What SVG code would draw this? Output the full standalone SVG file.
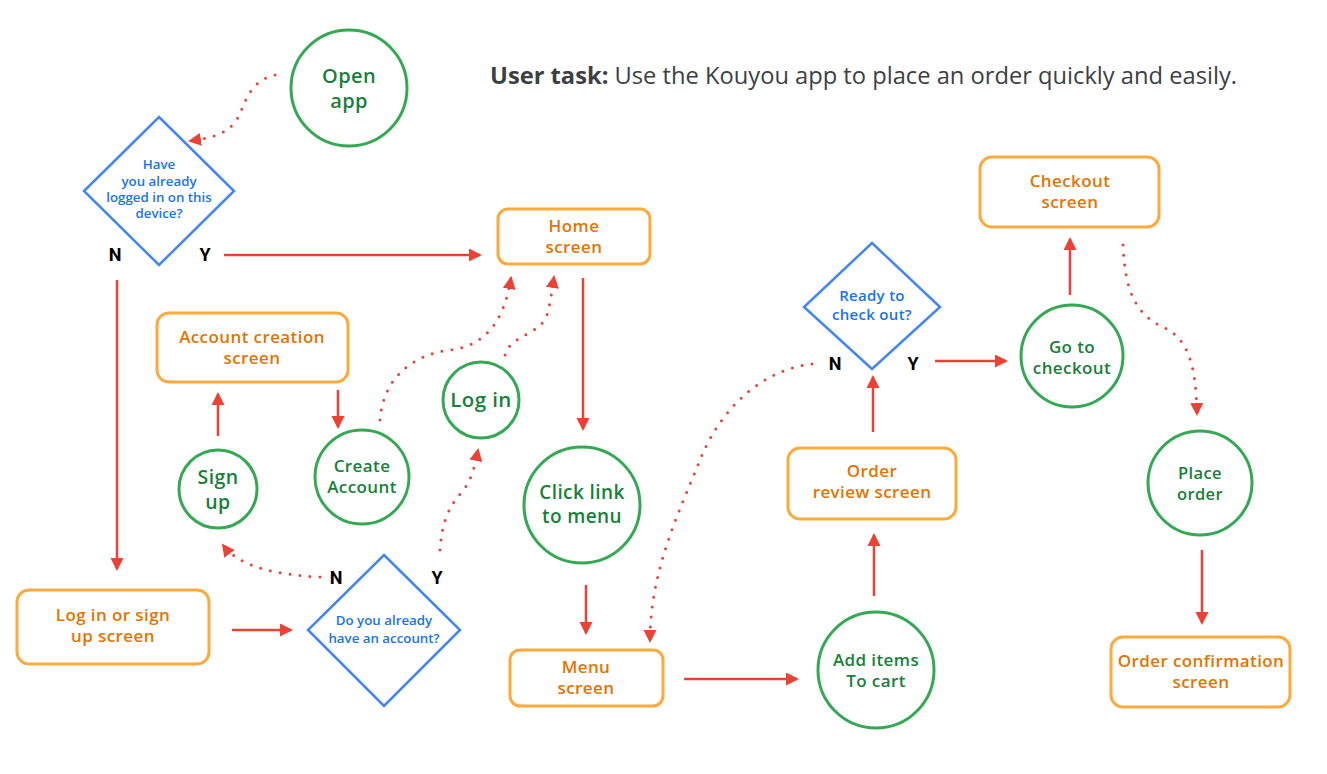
<svg xmlns="http://www.w3.org/2000/svg" width="1327" height="774" viewBox="0 0 1327 774">
<defs>
<marker id="ah" markerUnits="userSpaceOnUse" markerWidth="14" markerHeight="14" refX="11" refY="6.5" orient="auto">
<path d="M0,0 L13,6.5 L0,13 z" fill="#EA4335"/>
</marker>
<style>
.act{fill:#fff;stroke:#34A853;stroke-width:3}
.scr{fill:#fff;stroke:#FBAA3C;stroke-width:3}
.dec{fill:#fff;stroke:#4285F4;stroke-width:2.5}
.ta{font-family:"Open Sans",sans-serif;font-weight:600;fill:#188038;text-anchor:middle;letter-spacing:0.4px}
.ts{font-family:"Open Sans",sans-serif;font-weight:600;fill:#E37400;text-anchor:middle;font-size:17px;letter-spacing:0.4px}
.td{font-family:"Open Sans",sans-serif;font-weight:600;fill:#1A73E8;text-anchor:middle;font-size:13.3px}
.td2{font-size:15px;letter-spacing:0.3px}
.yn{font-family:Roboto,sans-serif;font-weight:700;fill:#000;font-size:18px;text-anchor:middle}
.ln{fill:none;stroke:#EA4335;stroke-width:2.5;marker-end:url(#ah)}
.dt{fill:none;stroke:#EA4335;stroke-width:3;stroke-linecap:round;stroke-dasharray:0 10;marker-end:url(#ah)}
</style>
</defs>
<rect width="1327" height="774" fill="#fff"/>
<text x="490" y="84" font-family="'Open Sans',sans-serif" font-size="23.7" fill="#3C4043"><tspan font-weight="700">User task:</tspan> Use the Kouyou app to place an order quickly and easily.</text>

<g id="connectors">
<path class="ln" d="M224,255 H480"/>
<path class="ln" d="M117,280 V569"/>
<path class="ln" d="M232,630 H291"/>
<path class="ln" d="M218,436 V394"/>
<path class="ln" d="M338,390 V427"/>
<path class="ln" d="M583,278 V429"/>
<path class="ln" d="M586,585 V633"/>
<path class="ln" d="M684,679 H797"/>
<path class="ln" d="M874,596 V535"/>
<path class="ln" d="M873,432 V377"/>
<path class="ln" d="M935,361 H1006"/>
<path class="ln" d="M1070,295 V239"/>
<path class="ln" d="M1202,550 V623"/>
<path class="dt" d="M275,75 C245,82 245,110 235,122 C225,135 210,138 190,141"/>
<path class="dt" d="M380,420 C383,380 410,355 450,350 C490,345 505,315 511,278"/>
<path class="dt" d="M505,355 C510,335 540,335 547,315 C551,300 552,290 554,277"/>
<path class="dt" d="M320,577 C280,575 240,568 223,545"/>
<path class="dt" d="M440,550 C442,520 450,505 462,492 C472,480 475,465 478,450"/>
<path class="dt" d="M812,364 C760,370 720,410 700,460 C680,510 650,570 650,641"/>
<path class="dt" d="M1123,245 C1125,290 1135,315 1165,328 C1190,340 1196,370 1197,414"/>
</g>

<g id="open-app"><circle class="act" cx="349" cy="88" r="58"/><text class="ta" x="349" y="83" font-size="20">Open</text><text class="ta" x="349" y="108" font-size="20">app</text></g>

<g id="logged-in-decision"><path class="dec" d="M159,117 L234,191 L159,265 L84,191 z"/>
<text class="td" x="159" y="169">Have</text><text class="td" x="159" y="186">you already</text><text class="td" x="159" y="202">logged in on this</text><text class="td" x="159" y="218">device?</text></g>
<text class="yn" x="115" y="261">N</text><text class="yn" x="205" y="261">Y</text>

<g id="home-screen"><rect class="scr" x="498" y="209" width="152" height="55" rx="10"/><text class="ts" x="574" y="232">Home</text><text class="ts" x="574" y="253">screen</text></g>

<g id="login-signup-screen"><rect class="scr" x="17" y="590" width="192" height="74" rx="12"/><text class="ts" x="113" y="621">Log in or sign</text><text class="ts" x="113" y="642">up screen</text></g>

<g id="account-decision"><path class="dec" d="M384,555 L460,630 L384,706 L308,630 z"/>
<text class="td" x="384" y="625">Do you already</text><text class="td" x="384" y="643">have an account?</text></g>
<text class="yn" x="336" y="584">N</text><text class="yn" x="437" y="584">Y</text>

<g id="sign-up"><circle class="act" cx="218" cy="489" r="39"/><text class="ta" x="218" y="484" font-size="19.5">Sign</text><text class="ta" x="218" y="508.5" font-size="19.5">up</text></g>

<g id="account-creation-screen"><rect class="scr" x="157" y="313" width="191" height="69" rx="12"/><text class="ts" x="252" y="343">Account creation</text><text class="ts" x="252" y="364">screen</text></g>

<g id="create-account"><circle class="act" cx="362" cy="477" r="47"/><text class="ta" x="362" y="472" font-size="17">Create</text><text class="ta" x="362" y="493" font-size="17">Account</text></g>

<g id="log-in"><circle class="act" cx="481" cy="400" r="38"/><text class="ta" x="481" y="407" font-size="20.5">Log in</text></g>

<g id="click-link"><circle class="act" cx="582" cy="505" r="58"/><text class="ta" x="582" y="499" font-size="19">Click link</text><text class="ta" x="582" y="523" font-size="19">to menu</text></g>

<g id="menu-screen"><rect class="scr" x="510" y="650" width="153" height="56" rx="10"/><text class="ts" x="586" y="673">Menu</text><text class="ts" x="586" y="694">screen</text></g>

<g id="add-items"><circle class="act" cx="876" cy="670" r="58"/><text class="ta" x="876" y="666" font-size="17">Add items</text><text class="ta" x="876" y="687" font-size="17">To cart</text></g>

<g id="order-review-screen"><rect class="scr" x="788" y="448" width="168" height="71" rx="12"/><text class="ts" x="872" y="477">Order</text><text class="ts" x="872" y="498">review screen</text></g>

<g id="checkout-decision"><path class="dec" d="M872,243 L940,307 L872,369 L804,307 z"/>
<text class="td td2" x="872" y="300.5">Ready to</text><text class="td td2" x="872" y="320">check out?</text></g>
<text class="yn" x="835" y="370">N</text><text class="yn" x="913" y="370">Y</text>

<g id="go-to-checkout"><circle class="act" cx="1072" cy="356" r="51"/><text class="ta" x="1072" y="353" font-size="17">Go to</text><text class="ta" x="1072" y="374" font-size="17">checkout</text></g>

<g id="checkout-screen"><rect class="scr" x="980" y="157" width="179" height="70" rx="12"/><text class="ts" x="1070" y="187">Checkout</text><text class="ts" x="1070" y="208">screen</text></g>

<g id="place-order"><circle class="act" cx="1200" cy="483" r="52"/><text class="ta" x="1200" y="479" font-size="16.5">Place</text><text class="ta" x="1200" y="500" font-size="16.5">order</text></g>

<g id="order-confirmation-screen"><rect class="scr" x="1111" y="637" width="179" height="70" rx="12"/><text class="ts" x="1201" y="667">Order confirmation</text><text class="ts" x="1201" y="688">screen</text></g>
</svg>
